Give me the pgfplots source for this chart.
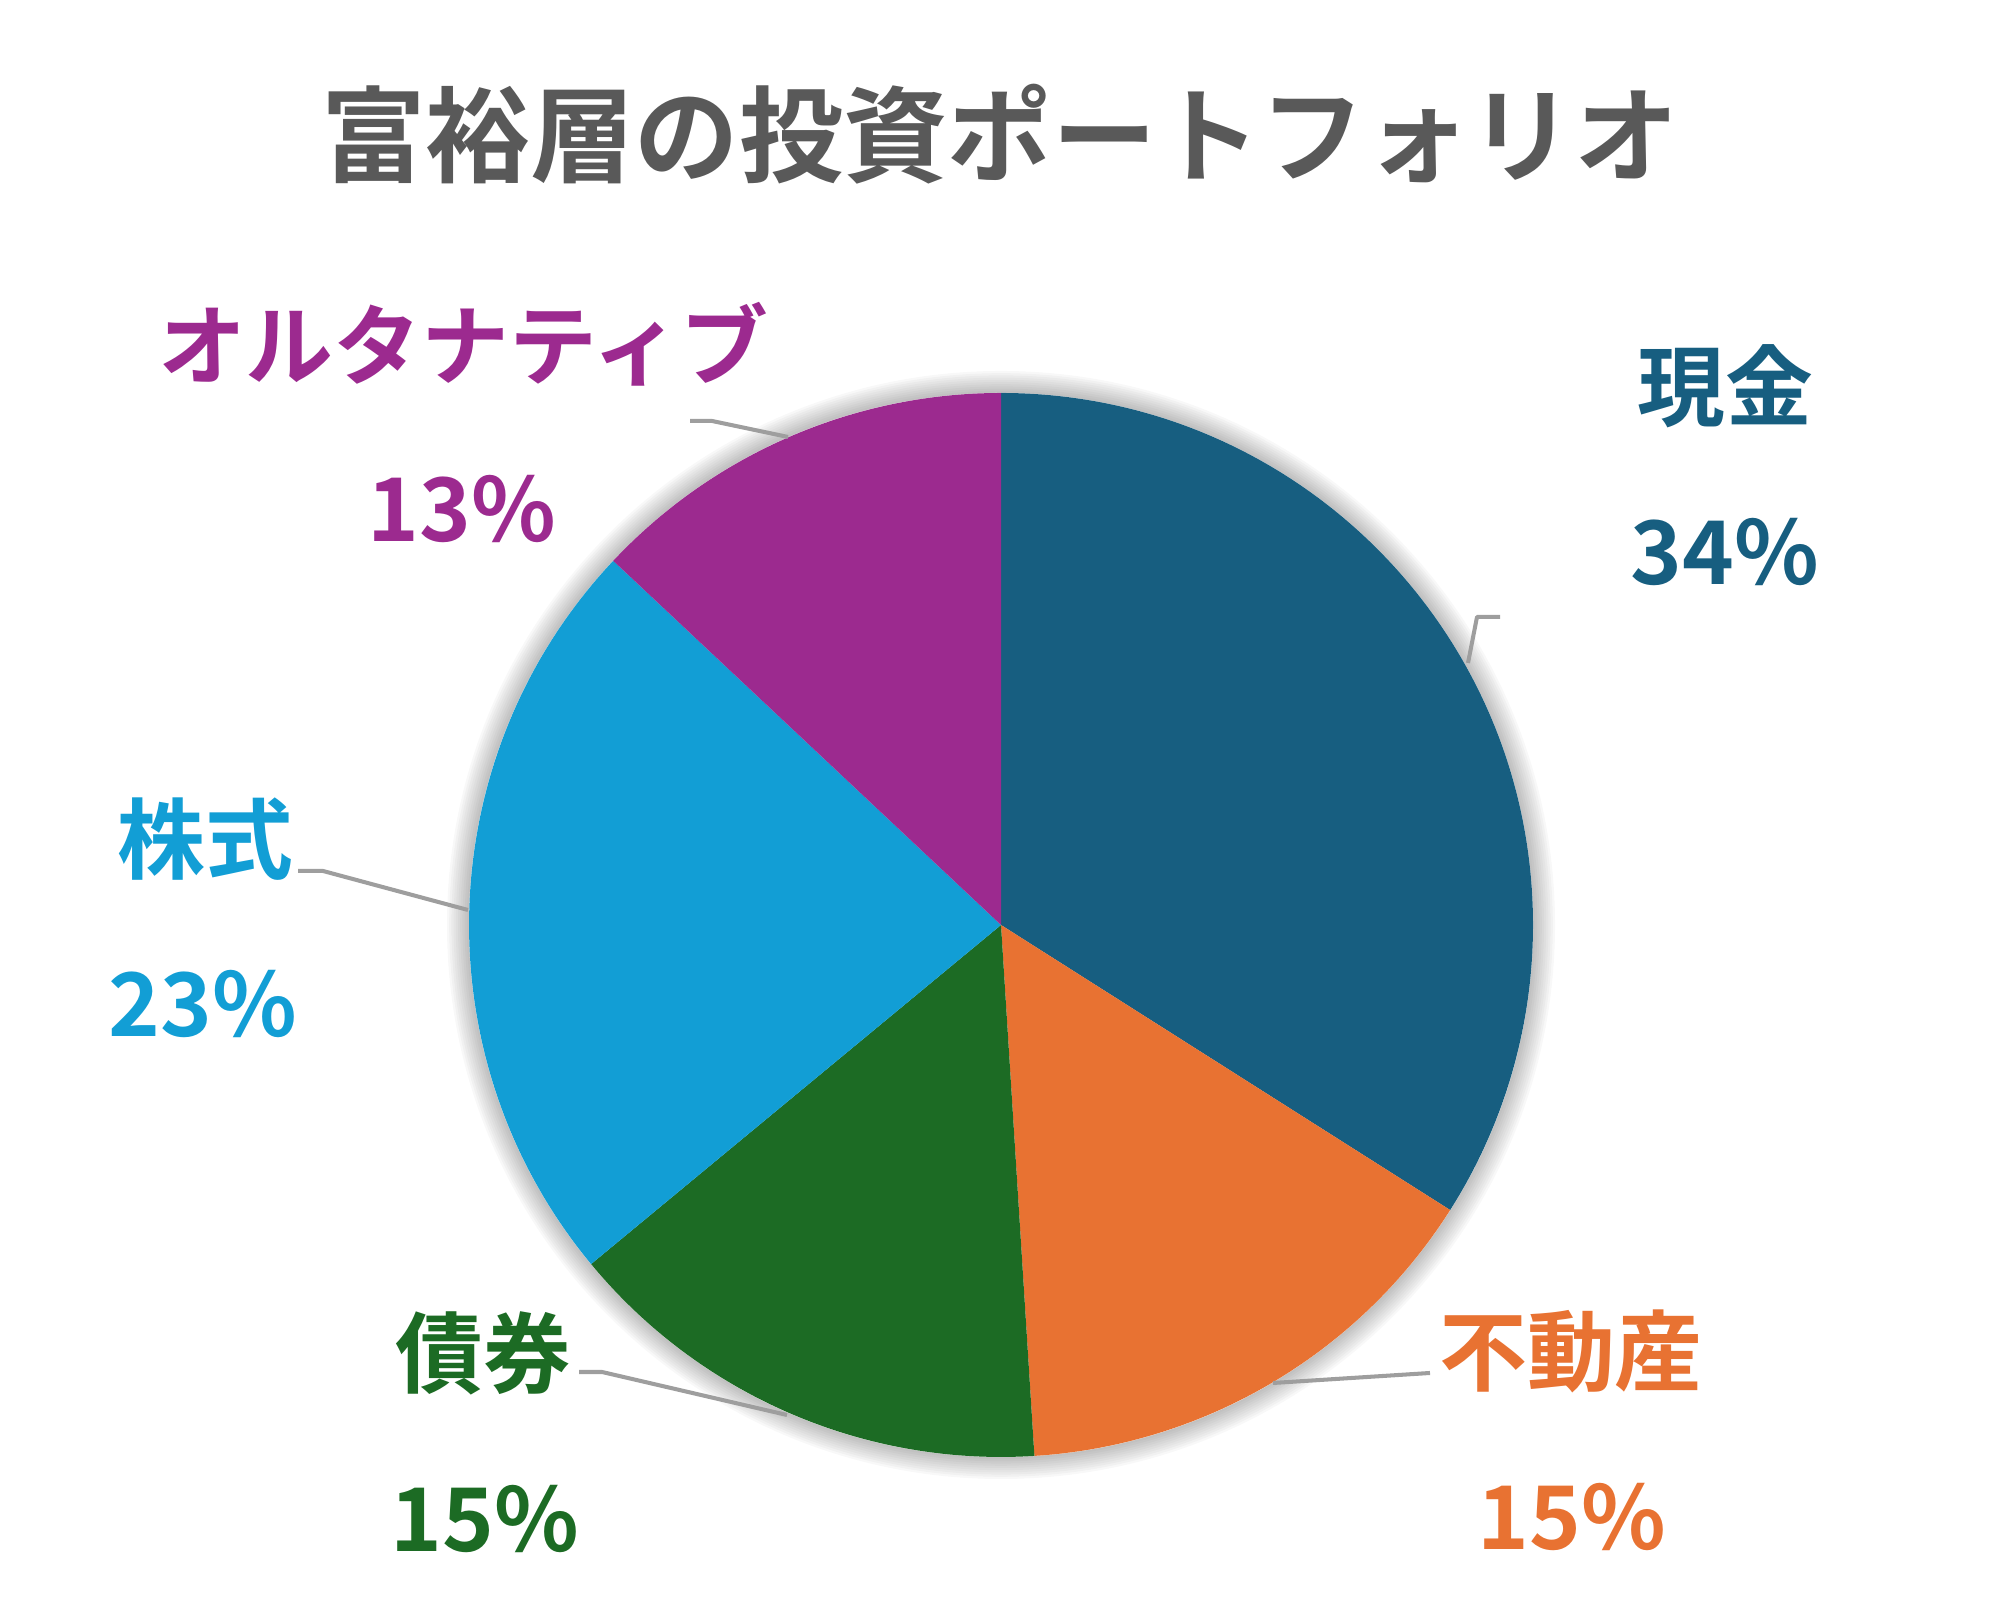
\documentclass[border=0pt]{standalone}
\usepackage{fontspec}
\usepackage{pgfplots}
\pgfplotsset{compat=1.18}
\usepackage{pgfplotstable}
\newfontfamily\jpb{Noto Sans CJK JP Bold}
\definecolor{cCash}{HTML}{175E80}
\definecolor{cReal}{HTML}{E87232}
\definecolor{cBond}{HTML}{1C6B24}
\definecolor{cStock}{HTML}{129ED5}
\definecolor{cAlt}{HTML}{9C2A8F}
\definecolor{cTitle}{HTML}{595959}
\definecolor{cLead}{HTML}{9E9E9E}

\pgfplotstableread{
idx value color
0 34 cCash
1 15 cReal
2 15 cBond
3 23 cStock
4 13 cAlt
}\piedata

\begin{document}
\begin{tikzpicture}
\begin{axis}[
  x=1cm, y=1cm, scale only axis, disabledatascaling,
  xmin=0, xmax=20, ymin=0, ymax=16.03,
  hide axis, clip=false,
]
\path (axis cs:0,0) rectangle (axis cs:20,16.03);
\pgfplotsextra{%
  % soft shadow
  \foreach \k in {1,...,10}{%
    \pgfmathsetmacro\rr{5.32+0.022*\k}%
    \fill[black, opacity=0.026] (axis cs:10.01,6.78) circle[radius=\rr cm];
  }%
  \fill[white] (axis cs:10.01,6.78) circle[radius=5.32cm];
  \gdef\cum{0}%
  \pgfplotsforeachungrouped \i in {0,...,4}{%
    \pgfplotstablegetelem{\i}{value}\of\piedata \let\v\pgfplotsretval
    \pgfplotstablegetelem{\i}{color}\of\piedata \let\c\pgfplotsretval
    \pgfmathsetmacro\a{90-3.6*\cum}%
    \pgfmathsetmacro\b{90-3.6*(\cum+\v)}%
    \pgfmathsetmacro\sx{10.01+5.32*cos(\a)}%
    \pgfmathsetmacro\sy{6.78+5.32*sin(\a)}%
    \fill[fill=\c] (axis cs:10.01,6.78) -- (axis cs:\sx,\sy) arc[start angle=\a, end angle=\b, radius=5.32cm] -- cycle;
    \pgfmathsetmacro\cum{\cum+\v}%
    \xdef\cum{\cum}%
  }%
}
% leader lines
\tikzset{lead/.style={cLead, line width=1.15pt, line join=round}}
\draw[lead] (axis cs:6.90,11.82) -- (axis cs:7.12,11.82) -- (axis cs:7.88,11.66);
\draw[lead] (axis cs:15.00,9.86) -- (axis cs:14.77,9.86) -- (axis cs:14.68,9.40);
\draw[lead] (axis cs:2.98,7.32) -- (axis cs:3.23,7.32) -- (axis cs:4.68,6.93);
\draw[lead] (axis cs:5.79,2.31) -- (axis cs:6.02,2.31) -- (axis cs:7.87,1.88);
\draw[lead] (axis cs:14.30,2.30) -- (axis cs:12.73,2.20);
% title
\node[inner sep=0, text=cTitle, font=\jpb\fontsize{29.7pt}{32pt}\selectfont] at (axis cs:10.00,14.69) {富裕層の投資ポートフォリオ};
% labels
\tikzset{lab/.style={inner sep=0, font=\jpb\fontsize{25pt}{28pt}\selectfont}}
\node[lab, text=cCash] at (axis cs:17.25,12.17) {現金};
\node[lab, text=cCash] at (axis cs:17.25,10.51) {34\%};
\node[lab, text=cReal] at (axis cs:15.71,2.52) {不動産};
\node[lab, text=cReal] at (axis cs:15.72,0.86) {15\%};
\node[lab, text=cBond] at (axis cs:4.83,2.50) {債券};
\node[lab, text=cBond] at (axis cs:4.85,0.84) {15\%};
\node[lab, text=cStock] at (axis cs:2.05,7.64) {株式};
\node[lab, text=cStock] at (axis cs:2.03,5.99) {23\%};
\node[lab, text=cAlt] at (axis cs:4.63,12.59) {オルタナティブ};
\node[lab, text=cAlt] at (axis cs:4.62,10.94) {13\%};
\end{axis}
\end{tikzpicture}
\end{document}
